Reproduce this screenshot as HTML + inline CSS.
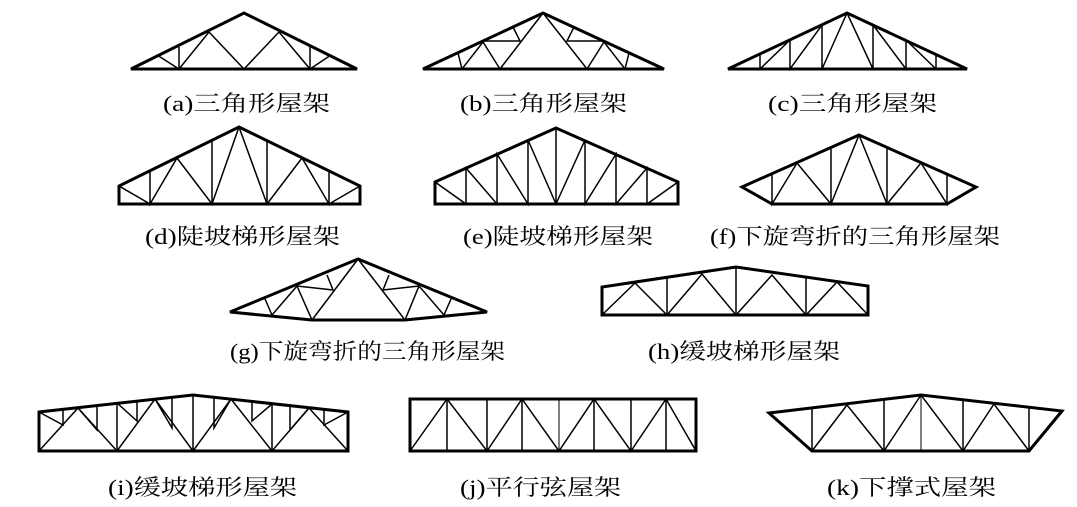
<!DOCTYPE html>
<html><head><meta charset="utf-8"><style>
html,body{margin:0;padding:0;background:#fff;}
svg{display:block;}
text{font-family:"Liberation Serif","Noto Serif CJK SC",serif;font-size:22px;fill:#000;}
.c{stroke:#000;stroke-width:3;fill:none;stroke-linejoin:miter;}
.w{stroke:#000;stroke-width:1.5;fill:none;}
</style></head><body>
<svg width="1077" height="507" viewBox="0 0 1077 507" xmlns="http://www.w3.org/2000/svg">
<!-- (a) -->
<polygon class="c" points="131,69 244,13 357,69"/>
<polyline class="w" points="157,55 179,69 179,47"/>
<polyline class="w" points="179,69 209,32 244,69 279,32 310,69 310,47"/>
<line class="w" x1="331" y1="55" x2="310" y2="69"/>
<!-- (b) -->
<polygon class="c" points="423,69 543,13 664,69"/>
<polyline class="w" points="458,53 462,69 483,42 500,69 543,13"/>
<polyline class="w" points="483,41 520,41 513,27"/>
<polyline class="w" points="629,53 625,69 604,42 587,69 543,13"/>
<polyline class="w" points="604,41 567,41 574,27"/>
<!-- (c) -->
<polygon class="c" points="728,69 847,13 967,69"/>
<polyline class="w" points="760,54 760,69 790,40 790,69 822,25 822,69 847,13 873,69 873,25 906,69 906,40 936,69 936,54"/>
<!-- (d) -->
<polygon class="c" points="119,204 119,186 239,127 360,186 360,204"/>
<polyline class="w" points="119,186 150,204 150,171 150,204 177,158 212,204 212,140 212,204 239,127 267,204 267,140 267,204 302,158 329,204 329,171 329,204 360,186"/>
<!-- (e) -->
<polygon class="c" points="435,204 435,182 556,128 678,182 678,204"/>
<polyline class="w" points="435,182 466,204 466,168 497,204 497,154 528,204 528,140 556,204 556,128"/>
<polyline class="w" points="556,204 585,140 585,204 616,154 616,204 647,168 647,204 678,182"/>
<!-- (f) -->
<polygon class="c" points="742,187 859,135 976,187 947,204 772,204"/>
<polyline class="w" points="772,174 772,204 797,163 831,204 831,147 831,204 859,135 887,204 887,147 887,204 921,163 947,204 947,174"/>
<!-- (g) -->
<polygon class="c" points="230,312 358,259 487,312 405,320 312,320"/>
<polyline class="w" points="265,299 272,315 297,286 312,320 358,259 405,320 419,286 444,315 451,299"/>
<polyline class="w" points="297,286 333,290 327,275"/>
<polyline class="w" points="419,286 383,290 389,275"/>
<!-- (h) -->
<polygon class="c" points="602,315 602,287 736,267 868,286 868,315"/>
<polyline class="w" points="602,315 635,283 667,315 702,274 736,315 772,275 806,315 837,282 868,315"/>
<line class="w" x1="667" y1="278" x2="667" y2="315"/>
<line class="w" x1="736" y1="267" x2="736" y2="315"/>
<line class="w" x1="806" y1="277" x2="806" y2="315"/>
<!-- (i) -->
<polygon class="c" points="39,451 39,412 193,395 348,412 348,451"/>
<polyline class="w" points="39,451 78,408 117,451 155,399 193,451 231,399 272,451 309,408 348,451"/>
<line class="w" x1="117" y1="403" x2="117" y2="451"/>
<line class="w" x1="193" y1="395" x2="193" y2="451"/>
<line class="w" x1="272" y1="404" x2="272" y2="451"/>
<polyline class="w" points="39,412 63,425 63,409"/>
<polyline class="w" points="97,406 97,430 78,408"/>
<polyline class="w" points="137,401 137,421 117,403"/>
<polyline class="w" points="172,397 172,428 155,399"/>
<polyline class="w" points="214,398 214,428 231,399"/>
<polyline class="w" points="252,401 252,421 272,404"/>
<polyline class="w" points="290,406 290,430 309,408"/>
<polyline class="w" points="348,412 324,425 324,409"/>
<!-- (j) -->
<rect class="c" x="410" y="399" width="286" height="52"/>
<polyline class="w" points="410,451 447,399 487,451 522,399 559,451 594,399 631,451 666,399 696,451"/>
<line class="w" x1="447" y1="399" x2="447" y2="451"/>
<line class="w" x1="487" y1="399" x2="487" y2="451"/>
<line class="w" x1="522" y1="399" x2="522" y2="451"/>
<line class="w" x1="559" y1="399" x2="559" y2="451" style="stroke-width:1"/>
<line class="w" x1="594" y1="399" x2="594" y2="451"/>
<line class="w" x1="631" y1="399" x2="631" y2="451"/>
<line class="w" x1="666" y1="399" x2="666" y2="451"/>
<!-- (k) -->
<polygon class="c" points="769,413 921,395 1062,411 1029,451 812,451"/>
<polyline class="w" points="812,451 847,405 884,451 921,395 963,451 994,404 1029,451"/>
<line class="w" x1="812" y1="408" x2="812" y2="451"/>
<line class="w" x1="884" y1="400" x2="884" y2="451"/>
<line class="w" x1="921" y1="395" x2="921" y2="451" style="stroke-width:1"/>
<line class="w" x1="963" y1="400" x2="963" y2="451"/>
<line class="w" x1="1029" y1="408" x2="1029" y2="451"/>
<!-- labels -->
<text x="163" y="111" textLength="167" lengthAdjust="spacingAndGlyphs">(a)三角形屋架</text>
<text x="460" y="111" textLength="167" lengthAdjust="spacingAndGlyphs">(b)三角形屋架</text>
<text x="768" y="111" textLength="169" lengthAdjust="spacingAndGlyphs">(c)三角形屋架</text>
<text x="145" y="244" textLength="195" lengthAdjust="spacingAndGlyphs">(d)陡坡梯形屋架</text>
<text x="463" y="244" textLength="190" lengthAdjust="spacingAndGlyphs">(e)陡坡梯形屋架</text>
<text x="710" y="244" textLength="290" lengthAdjust="spacingAndGlyphs">(f)下旋弯折的三角形屋架</text>
<text x="230" y="359" textLength="275" lengthAdjust="spacingAndGlyphs">(g)下旋弯折的三角形屋架</text>
<text x="648" y="359" textLength="192" lengthAdjust="spacingAndGlyphs">(h)缓坡梯形屋架</text>
<text x="108" y="495" textLength="189" lengthAdjust="spacingAndGlyphs">(i)缓坡梯形屋架</text>
<text x="460" y="495" textLength="161" lengthAdjust="spacingAndGlyphs">(j)平行弦屋架</text>
<text x="827" y="495" textLength="169" lengthAdjust="spacingAndGlyphs">(k)下撑式屋架</text>
</svg>
</body></html>
